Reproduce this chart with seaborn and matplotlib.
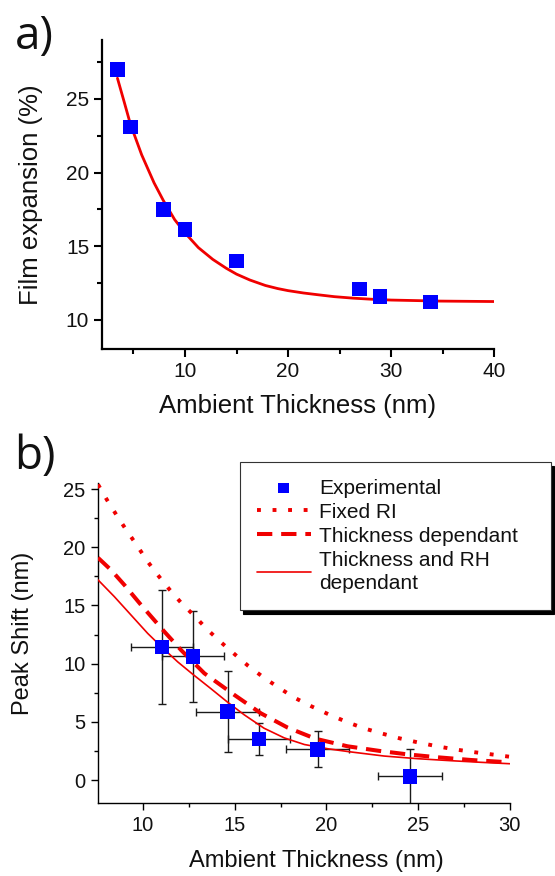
import matplotlib
matplotlib.use("Agg")
import matplotlib.pyplot as plt
from matplotlib.ticker import MultipleLocator, AutoMinorLocator
import seaborn as sns

# --- panel a: film expansion vs ambient thickness ---
a_thick = [3.45, 4.7, 7.9, 10.0, 15.0, 26.9, 28.9, 33.8]
a_expansion = [27.0, 23.1, 17.5, 16.15, 14.0, 12.1, 11.6, 11.2]

# exponential fit curve
a_fit_x = [3.45, 4.1, 4.7, 5.8, 7.0, 7.9, 9.0, 10.0, 11.3, 12.7, 14.0, 15.0, 16.3,
           17.8, 19.0, 20.0, 21.5, 22.9, 24.5, 26.3, 28.0, 30.0, 34.8, 40.0]
a_fit_y = [26.4, 24.8, 23.3, 21.2, 19.3, 18.1, 16.8, 15.9, 14.9, 14.1, 13.5, 13.1, 12.7,
           12.33, 12.12, 11.98, 11.82, 11.7, 11.57, 11.47, 11.4, 11.34, 11.27, 11.24]

# --- panel b: peak shift vs ambient thickness ---
b_thick = [11.03, 12.72, 14.61, 16.32, 19.52, 24.55]
b_shift = [11.42, 10.62, 5.87, 3.53, 2.64, 0.31]
b_xerr = [1.69, 1.71, 1.70, 1.69, 1.70, 1.75]
b_yerr = [4.93, 3.90, 3.47, 1.36, 1.55, 2.33]

fixed_x = [7.54, 8.03, 8.58, 9.12, 9.67, 10.21, 10.8, 11.43, 12.07, 12.8, 13.49,
           14.21, 14.98, 15.74, 16.56, 17.4, 18.25, 19.16, 20.1, 21.08, 22.05,
           23.0, 24.0, 24.97, 25.97, 26.98, 27.98, 28.98, 30.0]
fixed_y = [25.4, 24.07, 22.69, 21.4, 20.15, 18.85, 17.62, 16.39, 15.24, 14.1, 12.95,
           11.89, 10.83, 9.8, 8.83, 7.94, 7.08, 6.35, 5.66, 5.01, 4.44,
           4.01, 3.58, 3.24, 2.92, 2.64, 2.41, 2.21, 2.0]

dep_x = [7.54, 8.25, 8.98, 9.89, 11.16, 12.07, 13.34, 14.98, 16.43, 17.89, 19.4,
         21.15, 22.9, 24.45, 26.1, 27.9, 30.0]
dep_y = [19.1, 18.05, 16.76, 15.04, 12.75, 11.17, 9.17, 7.31, 5.73, 4.5, 3.55,
         2.9, 2.5, 2.2, 1.95, 1.72, 1.52]

rh_x = [7.54, 8.43, 9.34, 10.25, 11.0, 11.89, 12.7, 13.7, 14.6, 15.52, 16.6, 17.7,
        18.8, 20.1, 21.3, 23.15, 25.0, 26.8, 28.45, 30.0]
rh_y = [17.2, 15.76, 14.18, 12.6, 11.45, 10.15, 9.1, 7.85, 6.7, 5.6, 4.45, 3.62,
        3.05, 2.68, 2.42, 2.06, 1.83, 1.66, 1.52, 1.40]

leg_labels = ["Experimental", "Fixed RI", "Thickness dependant",
              "Thickness and RH\ndependant"]

sns.set_style("ticks")
plt.rcParams['font.family'] = ['Liberation Sans', 'DejaVu Sans']
plt.rcParams['text.color'] = '#111111'
plt.rcParams['axes.labelcolor'] = '#111111'
plt.rcParams['xtick.color'] = '#111111'
plt.rcParams['ytick.color'] = '#111111'

RED = "#f00000"
BLUE = "#0000ff"

fig = plt.figure(figsize=(5.55, 8.76), dpi=100)
fig.patch.set_facecolor("white")

# ---------------- a) ----------------
ax_a = fig.add_axes([0.1832, 0.6013, 0.7074, 0.3531])
sns.lineplot(x=a_fit_x, y=a_fit_y, ax=ax_a, color=RED, lw=2.0,
             sort=False, estimator=None, zorder=2)
sns.scatterplot(x=a_thick, y=a_expansion, ax=ax_a, marker="s", s=110,
                color=BLUE, edgecolor="none", zorder=3)
ax_a.set_xlim(1.92, 40)
ax_a.set_ylim(8, 29)
ax_a.xaxis.set_major_locator(MultipleLocator(10))
ax_a.yaxis.set_major_locator(MultipleLocator(5))
ax_a.xaxis.set_minor_locator(AutoMinorLocator(2))
ax_a.yaxis.set_minor_locator(AutoMinorLocator(2))
ax_a.tick_params(which="major", length=6, width=1.5, labelsize=15, pad=3, color="black")
ax_a.tick_params(which="minor", length=3.5, width=1.5, color="black")
for side in ["left", "bottom"]:
    ax_a.spines[side].set_linewidth(1.6)
    ax_a.spines[side].set_color("black")
sns.despine(ax=ax_a)
ax_a.set_xlabel("Ambient Thickness (nm)", fontsize=18.5)
ax_a.set_ylabel("Film expansion (%)", fontsize=18.5)
ax_a.xaxis.set_label_coords(0.5, -0.145)
ax_a.yaxis.set_label_coords(-0.1495, 0.5)

# ---------------- b) ----------------
ax_b = fig.add_axes([0.1766, 0.0830, 0.7418, 0.3653])
ax_b.errorbar(b_thick, b_shift, xerr=b_xerr, yerr=b_yerr, fmt="none",
              ecolor="#1a1a1a", elinewidth=1.0, capsize=2.8, capthick=1.0,
              zorder=2, label="_nolegend_")
sns.lineplot(x=fixed_x, y=fixed_y, ax=ax_b, color=RED, lw=2.8,
             linestyle=(0, (1.0, 3.0)), sort=False, estimator=None,
             label=leg_labels[1], zorder=3)
sns.lineplot(x=dep_x, y=dep_y, ax=ax_b, color=RED, lw=2.9,
             linestyle=(0, (3.8, 2.2)), sort=False, estimator=None,
             label=leg_labels[2], zorder=3)
sns.lineplot(x=rh_x, y=rh_y, ax=ax_b, color=RED, lw=1.2,
             sort=False, estimator=None, label=leg_labels[3], zorder=3)
sns.scatterplot(x=b_thick, y=b_shift, ax=ax_b, marker="s", s=110,
                color=BLUE, edgecolor="none", zorder=4, label=leg_labels[0])
ax_b.set_xlim(7.54, 30)
ax_b.set_ylim(-2.0, 25.5)
ax_b.xaxis.set_major_locator(MultipleLocator(5))
ax_b.yaxis.set_major_locator(MultipleLocator(5))
ax_b.xaxis.set_minor_locator(AutoMinorLocator(2))
ax_b.yaxis.set_minor_locator(AutoMinorLocator(2))
ax_b.tick_params(which="major", length=5, width=1.0, labelsize=14.5, pad=4, color="black")
ax_b.tick_params(which="minor", length=2.6, width=1.0, color="black")
for side in ["left", "bottom"]:
    ax_b.spines[side].set_linewidth(1.0)
    ax_b.spines[side].set_color("black")
sns.despine(ax=ax_b)
ax_b.set_xlabel("Ambient Thickness (nm)", fontsize=17)
ax_b.set_ylabel("Peak Shift (nm)", fontsize=17)
ax_b.xaxis.set_label_coords(0.53, -0.147)
ax_b.yaxis.set_label_coords(-0.1547, 0.532)

handles, labels = ax_b.get_legend_handles_labels()
lookup = dict(zip(labels, handles))
leg = ax_b.legend([lookup[l] for l in leg_labels], leg_labels,
                  loc="upper left", mode="expand",
                  bbox_to_anchor=(0.4324, 0.30, 0.5604, 0.1726),
                  bbox_transform=fig.transFigure, borderaxespad=0,
                  fontsize=15, frameon=True, fancybox=False,
                  shadow={"ox": 2, "oy": -3, "color": "black", "alpha": 1},
                  handlelength=2.6, handletextpad=0.4, labelspacing=0.24,
                  borderpad=0.8, markerscale=0.72)
leg.get_frame().set_edgecolor("#333333")
leg.get_frame().set_linewidth(0.8)
leg.get_frame().set_alpha(1)
for t in leg.get_texts():
    t.set_linespacing(1.3)

fig.text(0.026, 0.984, "a)", fontsize=33, family=["Open Sans", "DejaVu Sans"],
         ha="left", va="top")
fig.text(0.026, 0.505, "b)", fontsize=33, family=["Open Sans", "DejaVu Sans"],
         ha="left", va="top")

fig.savefig("out.png", dpi=100, facecolor="white")
